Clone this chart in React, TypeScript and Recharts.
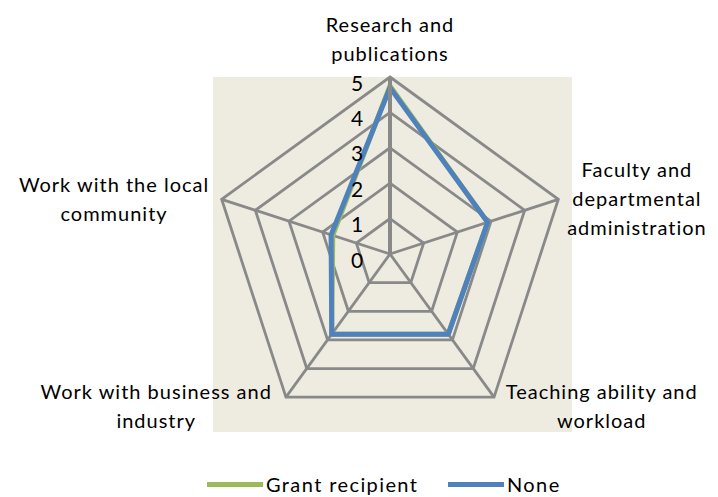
import React from 'react';
import { RadarChart, Radar, PolarGrid, PolarAngleAxis, PolarRadiusAxis, Legend } from 'recharts';

const categories = [
  'Research and|publications',
  'Faculty and|departmental|administration',
  'Teaching ability and|workload',
  'Work with business and|industry',
  'Work with the local|community',
];
const grantRecipient = [4.75, 2.9, 2.8, 2.8, 1.7];
const noneGroup = [4.7, 2.9, 2.8, 2.8, 1.75];
const radiusTicks = [0, 1, 2, 3, 4, 5];

const data = categories.map((c, i) => ({ name: c, grant: grantRecipient[i], none: noneGroup[i] }));

const FONT = 'Lato, "Open Sans", sans-serif';
const GRID = '#898989';

// label offsets from the tick point, per axis
const labelShift = [
  { dx: 0, dy: -45 },
  { dx: 71, dy: -28 },
  { dx: 103, dy: -13 },
  { dx: -125, dy: -13 },
  { dx: -100, dy: -13 },
];

const AngleTick = (props: any) => {
  const { x, y, payload, index } = props;
  const lines = String(payload.value).split('|');
  const s = labelShift[index] || { dx: 0, dy: 0 };
  return (
    <text textAnchor="middle" fontFamily={FONT} fontSize={20} fill="#000" letterSpacing={1}>
      {lines.map((l, i) => (
        <tspan key={i} x={x + s.dx} y={y + s.dy + i * 29} dominantBaseline="central">
          {l}
        </tspan>
      ))}
    </text>
  );
};

const RadiusTick = (props: any) => {
  const { x, y, payload } = props;
  return (
    <text x={x - 33} y={y + 5} textAnchor="middle" dominantBaseline="central" fontFamily={FONT} fontSize={21} fill="#000">
      {payload.value}
    </text>
  );
};

const LegendContent = () => (
  <div style={{ position: 'relative', height: 30, fontFamily: FONT, fontSize: 20, letterSpacing: 1.4 }}>
    {[
      { label: 'Grant recipient', color: '#9BBB59', left: 207 },
      { label: 'None', color: '#4F81BD', left: 448 },
    ].map((it) => (
      <div key={it.label} style={{ position: 'absolute', left: it.left, top: 0, display: 'flex', alignItems: 'center' }}>
        <span style={{ display: 'inline-block', width: 56, height: 5, background: it.color, marginRight: 3 }} />
        <span style={{ lineHeight: '24px' }}>{it.label}</span>
      </div>
    ))}
  </div>
);

export default function App() {
  return (
    <div style={{ position: 'absolute', left: 0, top: 0, width: 718, height: 497, background: '#fff', overflow: 'hidden' }}>
      <div style={{ position: 'absolute', left: 213, top: 77, width: 359, height: 355, background: '#EEECE1' }} />
      <RadarChart
        width={718}
        height={497}
        data={data}
        cx={390}
        cy={254}
        outerRadius={177}
        margin={{ top: 0, right: 0, bottom: 0, left: 0 }}
        style={{ position: 'absolute', left: 0, top: 0 }}
      >
        <PolarGrid gridType="polygon" stroke={GRID} strokeWidth={2.8} strokeOpacity={1} />
        <PolarAngleAxis dataKey="name" tick={<AngleTick />} tickLine={false} axisLine={false} />
        <PolarRadiusAxis
          angle={90}
          domain={[0, 5]}
          ticks={radiusTicks as any}
          tickCount={6}
          tick={<RadiusTick />}
          axisLine={{ stroke: GRID, strokeWidth: 4 }}
          tickLine={false}
        />
        <Radar name="Grant recipient" dataKey="grant" stroke="#9BBB59" strokeWidth={5} fill="none" fillOpacity={0} dot={false} isAnimationActive={false} />
        <Radar name="None" dataKey="none" stroke="#4F81BD" strokeWidth={5} fill="none" fillOpacity={0} dot={false} isAnimationActive={false} />
        <Legend content={<LegendContent />} wrapperStyle={{ position: 'absolute', top: 472, left: 0, width: 718 }} />
      </RadarChart>
    </div>
  );
}
